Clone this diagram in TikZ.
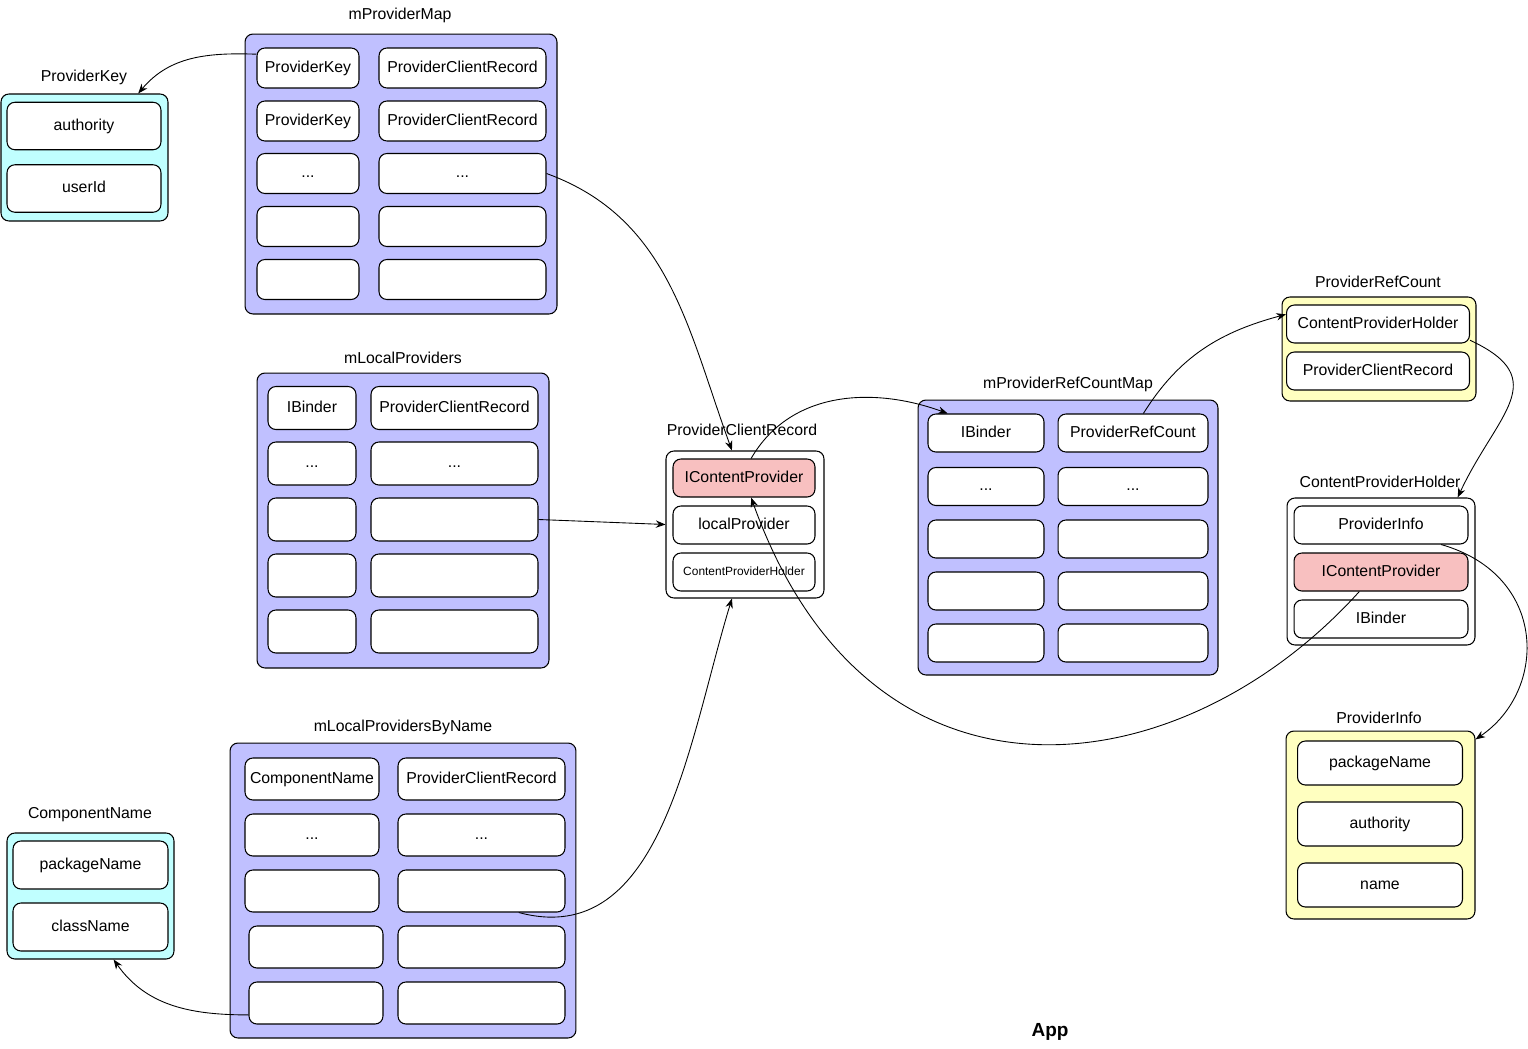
\documentclass[tikz,border=0pt]{standalone}
\usepackage{fontspec}
\setmainfont{Liberation Sans}
\usetikzlibrary{arrows.meta}
\definecolor{mapfill}{RGB}{192,192,255}
\definecolor{keyfill}{RGB}{192,255,255}
\definecolor{infofill}{RGB}{255,255,192}
\definecolor{icpfill}{RGB}{248,192,192}
\begin{document}
\begin{tikzpicture}[x=0.02cm,y=-0.02cm]
	\tikzstyle{every node}+=[inner sep=0pt, font=\fontsize{9}{11}\selectfont]
	\tikzstyle{box}=[draw=black, line width=0.6pt, rounded corners=4.5pt]
	\tikzstyle{cell}=[box, fill=white, text height=6.6pt, text depth=1.9pt]
	\tikzstyle{link}=[-{Stealth[length=5.5pt,width=4.2pt]}, line width=0.5pt]
	\tikzstyle{mpmkey}=[cell, minimum width=2.04cm, minimum height=0.8cm]
	\tikzstyle{mpmval}=[cell, minimum width=3.34cm, minimum height=0.8cm]
	\tikzstyle{mlpkey}=[cell, minimum width=1.76cm, minimum height=0.86cm]
	\tikzstyle{mlpval}=[cell, minimum width=3.34cm, minimum height=0.86cm]
	\tikzstyle{mlnkey}=[cell, minimum width=2.68cm, minimum height=0.84cm]
	\tikzstyle{mlnval}=[cell, minimum width=3.34cm, minimum height=0.84cm]
	\tikzstyle{mrckey}=[cell, minimum width=2.32cm, minimum height=0.76cm]
	\tikzstyle{mrcval}=[cell, minimum width=3cm, minimum height=0.76cm]
	\useasboundingbox (0,0) rectangle (1528,1048);

	\node (pkT) at (84,77) {ProviderKey};
	\node [box, fill=keyfill, minimum width=3.34cm, minimum height=2.54cm] (pk) at (84.5,157.5) {};
	\node [cell, minimum width=3.08cm, minimum height=0.95cm] (pkAuth) at (84,126) {authority};
	\node [cell, minimum width=3.08cm, minimum height=0.95cm] (pkUser) at (84,188.5) {userId};

	\node (mpmT) at (400,15) {mProviderMap};
	\node [box, fill=mapfill, minimum width=6.24cm, minimum height=5.6cm] (mpm) at (401,174) {};
	\node [mpmkey] (mpmK1) at (308,68) {ProviderKey};
	\node [mpmval] (mpmV1) at (462.5,68) {ProviderClientRecord};
	\node [mpmkey] (mpmK2) at (308,121) {ProviderKey};
	\node [mpmval] (mpmV2) at (462.5,121) {ProviderClientRecord};
	\node [mpmkey] (mpmK3) at (308,173.5) {...};
	\node [mpmval] (mpmV3) at (462.5,173.5) {...};
	\node [mpmkey] (mpmK4) at (308,226.5) {};
	\node [mpmval] (mpmV4) at (462.5,226.5) {};
	\node [mpmkey] (mpmK5) at (308,279.5) {};
	\node [mpmval] (mpmV5) at (462.5,279.5) {};

	\node (mlpT) at (403,358) {mLocalProviders};
	\node [box, fill=mapfill, minimum width=5.84cm, minimum height=5.9cm] (mlp) at (403,520.5) {};
	\node [mlpkey] (mlpK1) at (312,408) {IBinder};
	\node [mlpval] (mlpV1) at (454.5,408) {ProviderClientRecord};
	\node [mlpkey] (mlpK2) at (312,463.5) {...};
	\node [mlpval] (mlpV2) at (454.5,463.5) {...};
	\node [mlpkey] (mlpK3) at (312,519.5) {};
	\node [mlpval] (mlpV3) at (454.5,519.5) {};
	\node [mlpkey] (mlpK4) at (312,575.5) {};
	\node [mlpval] (mlpV4) at (454.5,575.5) {};
	\node [mlpkey] (mlpK5) at (312,631.5) {};
	\node [mlpval] (mlpV5) at (454.5,631.5) {};

	\node (mlnT) at (403,727) {mLocalProvidersByName};
	\node [box, fill=mapfill, minimum width=6.92cm, minimum height=5.9cm] (mln) at (403,890.5) {};
	\node [mlnkey] (mlnK1) at (312,779) {ComponentName};
	\node [mlnval] (mlnV1) at (481.5,779) {ProviderClientRecord};
	\node [mlnkey] (mlnK2) at (312,835) {...};
	\node [mlnval] (mlnV2) at (481.5,835) {...};
	\node [mlnkey] (mlnK3) at (312,891) {};
	\node [mlnval] (mlnV3) at (481.5,891) {};
	\node [mlnkey] (mlnK4) at (316,947) {};
	\node [mlnval] (mlnV4) at (481.5,947) {};
	\node [mlnkey] (mlnK5) at (316,1003) {};
	\node [mlnval] (mlnV5) at (481.5,1003) {};

	\node (cnT) at (90,815) {ComponentName};
	\node [box, fill=keyfill, minimum width=3.34cm, minimum height=2.52cm] (cn) at (90.5,896) {};
	\node [cell, minimum width=3.1cm, minimum height=0.96cm] (cnPkg) at (90.5,865) {packageName};
	\node [cell, minimum width=3.1cm, minimum height=0.96cm] (cnCls) at (90.5,927) {className};

	\node (pcrT) at (742,430) {ProviderClientRecord};
	\node [box, fill=white, minimum width=3.16cm, minimum height=2.94cm] (pcr) at (745,524.5) {};
	\node [cell, fill=icpfill, minimum width=2.84cm, minimum height=0.76cm] (pcrICP) at (744,478) {IContentProvider};
	\node [cell, minimum width=2.84cm, minimum height=0.76cm] (pcrLocal) at (744,525) {localProvider};
	\node [cell, minimum width=2.84cm, minimum height=0.76cm, font=\fontsize{6.8}{8}\selectfont, text height=5pt, text depth=1.4pt] (pcrHolder) at (744,572) {ContentProviderHolder};

	\node (mrcT) at (1068,384) {mProviderRefCountMap};
	\node [box, fill=mapfill, minimum width=6cm, minimum height=5.5cm] (mrc) at (1068,537.5) {};
	\node [mrckey] (mrcK1) at (986,433) {IBinder};
	\node [mrcval] (mrcV1) at (1133,433) {ProviderRefCount};
	\node [mrckey] (mrcK2) at (986,486.5) {...};
	\node [mrcval] (mrcV2) at (1133,486.5) {...};
	\node [mrckey] (mrcK3) at (986,539) {};
	\node [mrcval] (mrcV3) at (1133,539) {};
	\node [mrckey] (mrcK4) at (986,591) {};
	\node [mrcval] (mrcV4) at (1133,591) {};
	\node [mrckey] (mrcK5) at (986,643) {};
	\node [mrcval] (mrcV5) at (1133,643) {};

	\node (prcT) at (1378,282) {ProviderRefCount};
	\node [box, fill=infofill, minimum width=3.88cm, minimum height=2.08cm] (prc) at (1379,349) {};
	\node [cell, minimum width=3.66cm, minimum height=0.76cm] (prcHolder) at (1378,324) {ContentProviderHolder};
	\node [cell, minimum width=3.66cm, minimum height=0.76cm] (prcRecord) at (1378,371) {ProviderClientRecord};

	\node (cphT) at (1380,482) {ContentProviderHolder};
	\node [box, fill=white, minimum width=3.76cm, minimum height=2.94cm] (cph) at (1381,571.5) {};
	\node [cell, minimum width=3.48cm, minimum height=0.76cm] (cphInfo) at (1381,525) {ProviderInfo};
	\node [cell, fill=icpfill, minimum width=3.48cm, minimum height=0.76cm] (cphICP) at (1381,572) {IContentProvider};
	\node [cell, minimum width=3.48cm, minimum height=0.76cm] (cphBinder) at (1381,619) {IBinder};

	\node (piT) at (1379,718) {ProviderInfo};
	\node [box, fill=infofill, minimum width=3.78cm, minimum height=3.76cm] (pi) at (1380.5,825) {};
	\node [cell, minimum width=3.3cm, minimum height=0.88cm] (piPkg) at (1380,763) {packageName};
	\node [cell, minimum width=3.3cm, minimum height=0.88cm] (piAuth) at (1380,824) {authority};
	\node [cell, minimum width=3.3cm, minimum height=0.88cm] (piName) at (1380,885) {name};

	\node [font=\bfseries\fontsize{10.8}{13}\selectfont] (app) at (1050,1032) {App};

	\draw [link] (mpmK1.165) to [out=178, in=50] (pk.50);
	\draw [link] (mpmV3.east) to [out=-20, in=110] (pcr.100);
	\draw [link] (mlpV3.east) -- (pcr.west);
	\draw [link] (mlnV3.-30) to [out=-15, in=-107] (pcr.-100);
	\draw [link] (mlnK5.190) to [out=180, in=-55] (cn.-70);
	\draw [link] (pcrICP.70) to [out=60, in=160] (mrcK1.153);
	\draw [link] (cphICP.222) .. controls (1180,790) and (870,830) .. (pcrICP.290);
	\draw [link] (mrcV1.62) to [out=58, in=195] (prcHolder.174);
	\draw [link] (prcHolder.-10) to [out=-25, in=65, looseness=1.5] (cph.44);
	\draw [link] (cphInfo.-18) .. controls (1548,575) and (1548,690) .. (pi.42);
\end{tikzpicture}
\end{document}
